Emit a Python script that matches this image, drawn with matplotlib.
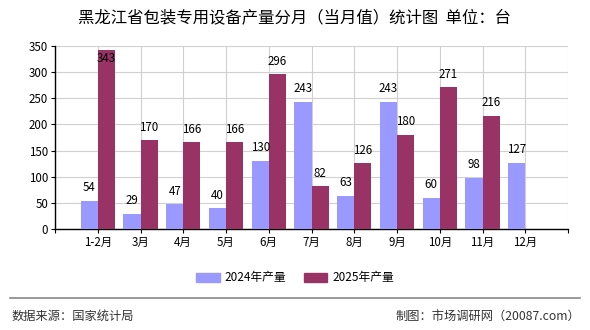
import matplotlib
matplotlib.use("Agg")
import matplotlib.pyplot as plt
from matplotlib.patches import Patch

plt.rcParams['font.family'] = ['Noto Sans CJK SC', 'DejaVu Sans']

categories = ["1-2月", "3月", "4月", "5月", "6月", "7月", "8月", "9月", "10月", "11月", "12月"]
values_2024 = [54, 29, 47, 40, 130, 243, 63, 243, 60, 98, 127]
values_2025 = [343, 170, 166, 166, 296, 82, 126, 180, 271, 216, None]
series_names = ["2024年产量", "2025年产量"]
title = "黑龙江省包装专用设备产量分月（当月值）统计图  单位：台"
yticks = [0, 50, 100, 150, 200, 250, 300, 350]

c24 = "#9999FF"
c25 = "#993366"

fig = plt.figure(figsize=(5.9, 3.3), dpi=100)
ax = fig.add_axes([55/590, 1-229/330, 513/590, 183/330])

w = 0.4
xs = list(range(1, len(categories) + 1))
ymax = 350

def lab(x, v):
    y = min(v + 25, ymax - 23)
    ax.text(x, y, str(v), ha='center', va='center', fontsize=8.3, color='black', zorder=5)

for x, a, b in zip(xs, values_2024, values_2025):
    if a is not None:
        ax.bar(x - w/2, a, width=w, color=c24, zorder=3)
        lab(x - w/2, a)
    if b is not None:
        ax.bar(x + w/2, b, width=w, color=c25, zorder=3)
        lab(x + w/2, b)

ax.set_xlim(0, len(categories) + 1)
ax.set_ylim(0, ymax)
ax.set_yticks(yticks)
ax.set_yticklabels([str(t) for t in yticks], fontsize=8.3)
ax.set_xticks(list(range(0, len(categories) + 2)))
ax.set_xticklabels([""] + categories + [""], fontsize=8.3)
ax.tick_params(axis='x', length=3, width=0.8, pad=2)
ax.tick_params(axis='y', length=3, width=0.8, pad=2)
ax.grid(True, color="#d0d0d0", linewidth=0.8, zorder=0)
for s in ['top', 'right']:
    ax.spines[s].set_visible(False)
ax.spines['left'].set_linewidth(1.0)
ax.spines['bottom'].set_linewidth(1.0)

fig.text(0.5, 1-18/330, title, ha='center', va='center', fontsize=11.8)

handles = [Patch(color=c24), Patch(color=c25)]
fig.legend(handles, series_names, loc='center', bbox_to_anchor=(295/590, 1-278/330),
           ncol=2, frameon=False, fontsize=8.5, handlelength=2.0, handleheight=0.8,
           columnspacing=1.5, handletextpad=0.4)

fig.add_artist(plt.Line2D([10/590, 580/590], [1-298/330, 1-298/330], color='#888888', linewidth=1.2))
fig.text(12/590, 1-316/330, "数据来源：国家统计局", ha='left', va='center', fontsize=8.8, color='#333333')
fig.text(580/590, 1-316/330, "制图：市场调研网（20087.com）", ha='right', va='center', fontsize=8.8, color='#333333')

fig.savefig("out.png", dpi=100)
